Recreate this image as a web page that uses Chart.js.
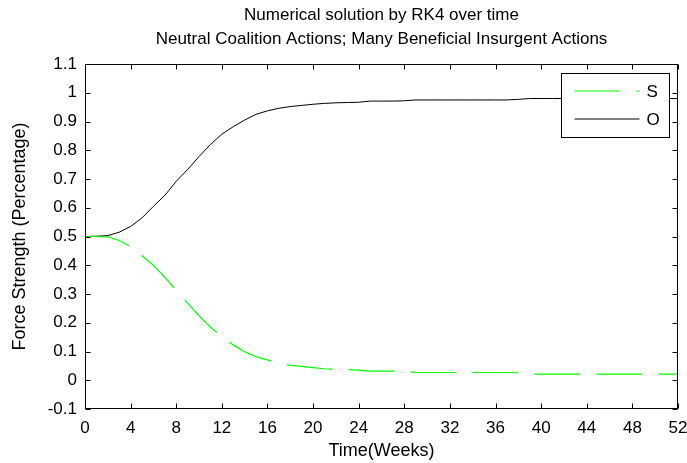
<!DOCTYPE html>
<html>
<head>
<meta charset="utf-8">
<script src="https://cdn.jsdelivr.net/npm/chart.js@4.4.1/dist/chart.umd.min.js"></script>
<style>
  html, body { margin: 0; padding: 0; background: #ffffff; }
  #wrap { width: 687px; height: 463px; }
</style>
</head>
<body>
<div id="wrap"><canvas id="c" width="687" height="463"></canvas></div>
<script>
// Time axis (weeks) and the two force strengths from the RK4 run
const weeks = [0,1,2,3,4,5,6,7,8,9,10,11,12,13,14,15,16,17,18,19,20,21,22,23,24,25,26,
  27,28,29,30,31,32,33,34,35,36,37,38,39,40,41,42,43,44,45,46,47,48,49,50,51,52];

const strengthS = [0.500,0.500,0.499,0.486,0.465,0.434,0.400,0.359,0.313,0.268,0.225,0.185,
  0.152,0.123,0.099,0.082,0.071,0.060,0.052,0.048,0.044,0.040,0.038,0.037,0.035,0.032,0.032,
  0.032,0.032,0.027,0.027,0.027,0.027,0.027,0.027,0.027,0.027,0.027,0.026,0.021,0.021,0.021,
  0.021,0.021,0.021,0.021,0.021,0.021,0.021,0.021,0.021,0.021,0.021];

const strengthO = [0.500,0.501,0.503,0.515,0.535,0.565,0.605,0.643,0.692,0.733,0.778,0.820,
  0.856,0.882,0.905,0.925,0.937,0.946,0.952,0.956,0.960,0.963,0.965,0.966,0.967,0.971,0.971,
  0.971,0.972,0.975,0.975,0.975,0.975,0.975,0.975,0.975,0.975,0.975,0.977,0.980,0.980,0.980,
  0.980,0.980,0.980,0.980,0.980,0.980,0.980,0.980,0.980,0.980,0.980];

const xTicks = [0,4,8,12,16,20,24,28,32,36,40,44,48,52];
const yTicks = [-0.1,0,0.1,0.2,0.3,0.4,0.5,0.6,0.7,0.8,0.9,1.0,1.1];

const titleLines = ['Numerical solution by RK4 over time',
  'Neutral Coalition Actions; Many Beneficial Insurgent Actions'];

const FONT = "'Liberation Sans', Arial, sans-serif";
const GREEN = '#00ff00';

const toPoints = (ys) => weeks.map((w, i) => ({ x: w, y: ys[i] }));

// Box frame with inward ticks on all four sides, the two-line title and the legend box
const framePlugin = {
  id: 'frame',
  afterDatasetsDraw(chart) {
    const { ctx, chartArea: a, scales: { x, y } } = chart;
    const L = Math.round(a.left) + 0.5, R = Math.round(a.right) - 0.5;
    const T = Math.round(a.top) + 0.5, B = Math.round(a.bottom) - 0.5;
    const tk = 5;
    ctx.save();
    ctx.strokeStyle = '#000';
    ctx.lineWidth = 1;
    ctx.beginPath();
    xTicks.forEach(v => {
      const px = Math.round(x.getPixelForValue(v)) + 0.5;
      ctx.moveTo(px, B); ctx.lineTo(px, B - tk);
      ctx.moveTo(px, T); ctx.lineTo(px, T + tk);
    });
    yTicks.forEach(v => {
      const py = Math.round(y.getPixelForValue(v)) + 0.5;
      ctx.moveTo(L, py); ctx.lineTo(L + tk, py);
      ctx.moveTo(R, py); ctx.lineTo(R - tk, py);
    });
    ctx.stroke();
    ctx.strokeRect(L, T, R - L, B - T);

    // legend
    const lw = 108, lh = 64;
    const lx = Math.round(a.right) - 9 - lw + 0.5, ly = Math.round(a.top) + 9 + 0.5;
    ctx.fillStyle = '#fff';
    ctx.fillRect(lx, ly, lw, lh);
    ctx.strokeRect(lx, ly, lw, lh);
    ctx.font = '17px ' + FONT;
    ctx.textBaseline = 'middle';
    ctx.textAlign = 'left';
    chart.data.datasets.forEach((ds, i) => {
      const yy = ly + 17.5 + i * 28;
      ctx.save();
      ctx.strokeStyle = ds.borderColor;
      ctx.lineWidth = ds.borderWidth;
      ctx.setLineDash(ds.borderDash || []);
      ctx.beginPath();
      ctx.moveTo(lx + 13, yy); ctx.lineTo(lx + 78, yy);
      ctx.stroke();
      ctx.restore();
      ctx.fillStyle = '#000';
      ctx.fillText(ds.label, lx + 85, yy + 1);
    });

    // title centred over the plot area
    ctx.font = '17px ' + FONT;
    ctx.textAlign = 'center';
    ctx.fillStyle = '#000';
    const cx = (a.left + a.right) / 2;
    titleLines.forEach((t, i) => ctx.fillText(t, cx, 15 + i * 24));
    ctx.restore();
  }
};

new Chart(document.getElementById('c'), {
  type: 'line',
  data: {
    datasets: [
      { label: 'S', data: toPoints(strengthS), borderColor: GREEN, borderWidth: 1.2,
        borderDash: [46, 16], pointRadius: 0, tension: 0, fill: false },
      { label: 'O', data: toPoints(strengthO), borderColor: '#000000', borderWidth: 1,
        pointRadius: 0, tension: 0, fill: false }
    ]
  },
  options: {
    responsive: false,
    animation: false,
    devicePixelRatio: 1,
    layout: { padding: { top: 64, right: 9, bottom: 0, left: 0 } },
    plugins: { legend: { display: false }, title: { display: false }, tooltip: { enabled: false } },
    scales: {
      x: {
        type: 'linear', min: 0, max: 52,
        afterBuildTicks: s => { s.ticks = xTicks.map(v => ({ value: v })); },
        afterFit: s => { s.height = 54; s.paddingLeft = 0; s.paddingRight = 0; },
        grid: { display: false, drawTicks: false },
        border: { display: false },
        ticks: { color: '#000', font: { family: FONT, size: 17 }, padding: 9, maxRotation: 0,
          autoSkip: false },
        title: { display: true, text: 'Time(Weeks)', color: '#000',
          font: { family: FONT, size: 18 }, padding: { top: 0, bottom: 1 } }
      },
      y: {
        type: 'linear', min: -0.1, max: 1.1,
        afterBuildTicks: s => { s.ticks = yTicks.map(v => ({ value: v })); },
        afterFit: s => { s.width = 85; s.paddingTop = 0; s.paddingBottom = 0; },
        grid: { display: false, drawTicks: false },
        border: { display: false },
        ticks: { color: '#000', font: { family: FONT, size: 17 }, padding: 8, autoSkip: false,
          callback: v => String(parseFloat(Number(v).toFixed(1))) },
        title: { display: true, text: 'Force Strength (Percentage)', color: '#000',
          font: { family: FONT, size: 18 }, padding: { top: 9, bottom: 0 } }
      }
    }
  },
  plugins: [framePlugin]
});
</script>
</body>
</html>
